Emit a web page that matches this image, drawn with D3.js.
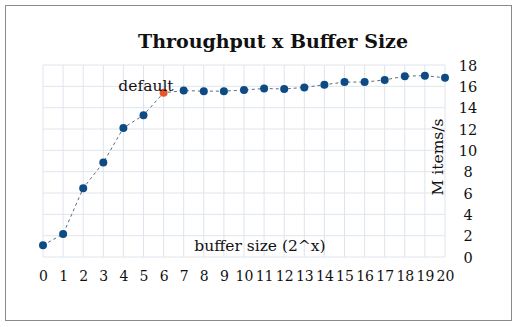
<!DOCTYPE html>
<html>
<head>
<meta charset="utf-8">
<script src="https://cdn.jsdelivr.net/npm/d3@7"></script>
<style>
  body { margin: 0; background: #fff; }
  text { font-family: "DejaVu Serif", serif; fill: #111; }
</style>
</head>
<body>
<div id="chart"></div>
<script>
// Data
const bufferExp = d3.range(0, 21);
const throughput = [1.1, 2.15, 6.45, 8.85, 12.1, 13.3, 15.4, 15.6, 15.55, 15.55, 15.65,
  15.8, 15.75, 15.9, 16.15, 16.4, 16.4, 16.6, 16.95, 17.0, 16.8];
const yTicks = [0, 2, 4, 6, 8, 10, 12, 14, 16, 18];
const defaultExp = 6;

// Dimensions
const WIDTH = 519;
const HEIGHT = 327;
const PLOT = { LEFT: 43, RIGHT: 445, TOP: 65, BOTTOM: 257 };

const svg = d3
  .select('#chart')
  .append('svg')
  .attr('width', WIDTH)
  .attr('height', HEIGHT);

// Outer border
svg.append('rect')
  .attr('x', 5.5).attr('y', 5.5)
  .attr('width', 506).attr('height', 315)
  .attr('fill', '#fff')
  .attr('stroke', '#8a8a8a')
  .attr('stroke-width', 1);

// Scales
const x = d3.scaleLinear().domain([0, 20]).range([PLOT.LEFT, PLOT.RIGHT]);
const y = d3.scaleLinear().domain([0, 18]).range([PLOT.BOTTOM, PLOT.TOP]);

// Grid
svg.append('g')
  .selectAll('line')
  .data(bufferExp)
  .join('line')
  .attr('x1', (d) => x(d)).attr('x2', (d) => x(d))
  .attr('y1', PLOT.TOP).attr('y2', PLOT.BOTTOM)
  .attr('stroke', '#dfe4ec');

svg.append('g')
  .selectAll('line')
  .data(yTicks)
  .join('line')
  .attr('x1', PLOT.LEFT).attr('x2', PLOT.RIGHT)
  .attr('y1', (d) => y(d)).attr('y2', (d) => y(d))
  .attr('stroke', '#dfe4ec');

// Axes
const xAxis = d3.axisBottom(x).tickValues(bufferExp).tickSize(0).tickPadding(14);
svg.append('g')
  .attr('transform', `translate(0, ${PLOT.BOTTOM})`)
  .call(xAxis)
  .call((g) => g.select('.domain').remove())
  .selectAll('text')
  .style('font-family', '"DejaVu Serif", serif')
  .style('font-size', '14px')
  .attr('fill', '#111');

const yAxis = d3.axisRight(y).tickValues(yTicks).tickSize(0).tickPadding(0);
svg.append('g')
  .attr('transform', `translate(${PLOT.RIGHT + 23}, 0)`)
  .call(yAxis)
  .call((g) => g.select('.domain').remove())
  .selectAll('text')
  .attr('text-anchor', 'middle')
  .attr('dy', '0.35em')
  .style('font-family', '"DejaVu Serif", serif')
  .style('font-size', '14.5px')
  .attr('fill', '#111');

// Title and axis titles
svg.append('text')
  .attr('x', 273).attr('y', 48)
  .attr('text-anchor', 'middle')
  .style('font-size', '19px')
  .style('font-weight', 'bold')
  .text('Throughput x Buffer Size');

svg.append('text')
  .attr('x', 260).attr('y', 251)
  .attr('text-anchor', 'middle')
  .style('font-size', '15.5px')
  .text('buffer size (2^x)');

svg.append('text')
  .attr('transform', `translate(443, 157) rotate(-90)`)
  .attr('text-anchor', 'middle')
  .style('font-size', '15.5px')
  .text('M items/s');

// Line
const line = d3.line()
  .x((d, i) => x(bufferExp[i]))
  .y((d) => y(d));

svg.append('path')
  .datum(throughput)
  .attr('d', line)
  .attr('fill', 'none')
  .attr('stroke', '#5b6b82')
  .attr('stroke-width', 1)
  .attr('stroke-dasharray', '3,3');

// Points
svg.append('g')
  .selectAll('circle')
  .data(throughput)
  .join('circle')
  .attr('cx', (d, i) => x(bufferExp[i]))
  .attr('cy', (d) => y(d))
  .attr('r', 4)
  .attr('fill', (d, i) => (bufferExp[i] === defaultExp ? '#e8562a' : '#0e4a84'));

// Default label
svg.append('text')
  .attr('x', x(defaultExp) + 10)
  .attr('y', y(throughput[defaultExp]) - 2)
  .attr('text-anchor', 'end')
  .style('font-size', '15.5px')
  .text('default');
</script>
</body>
</html>
